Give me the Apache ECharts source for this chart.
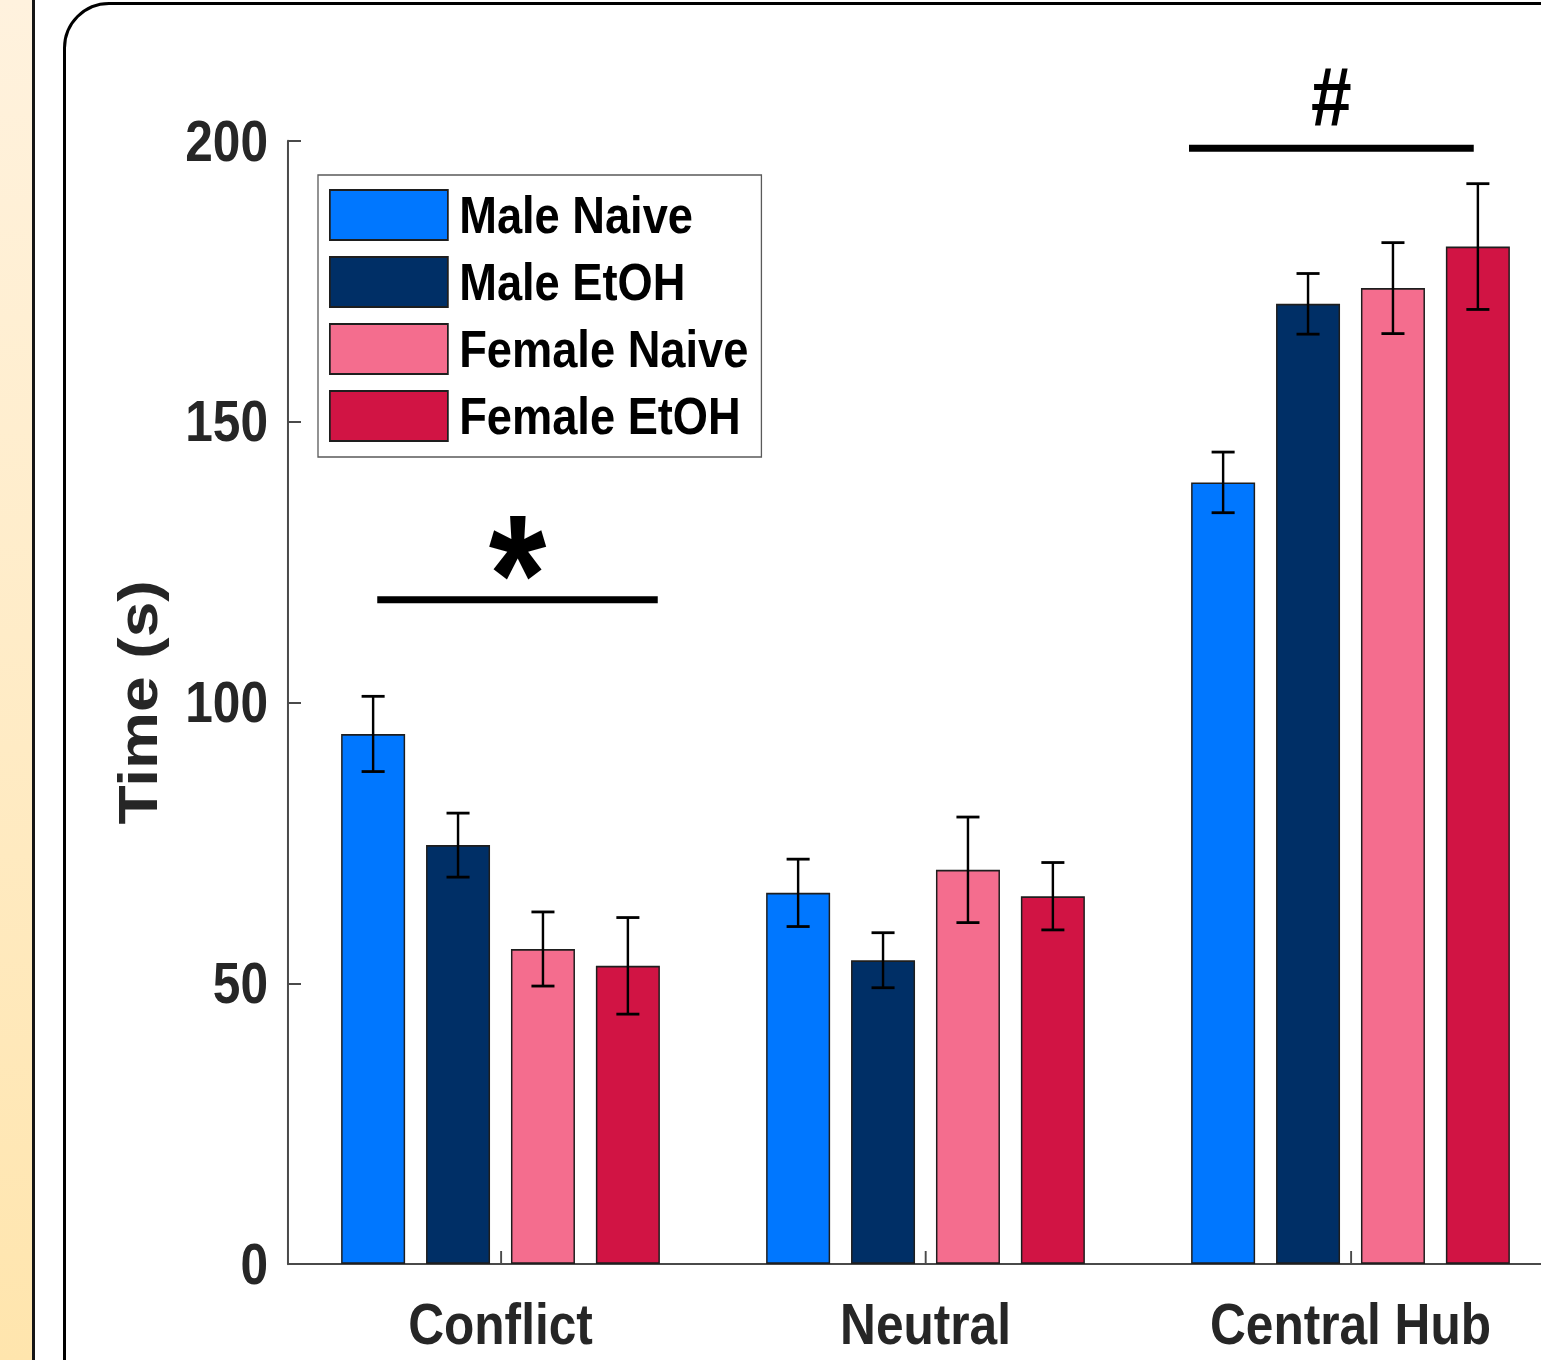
<!DOCTYPE html>
<html>
<head>
<meta charset="utf-8">
<title>Time spent per zone</title>
<script src="https://cdn.jsdelivr.net/npm/echarts@6/dist/echarts.min.js"></script>
<style>
  html, body { margin: 0; padding: 0; }
  body { width: 1541px; height: 1360px; overflow: hidden; position: relative; background: #ffffff; }
  #strip { position: absolute; left: 0; top: 0; width: 32px; height: 1360px;
           background: linear-gradient(180deg, #fff2de 0%, #ffebc4 55%, #ffe5ad 100%); }
  #rule { position: absolute; left: 32px; top: 0; width: 3px; height: 1360px; background: #151515; }
  #panel { position: absolute; left: 63px; top: 2px; width: 1560px; height: 1500px;
           border: 3px solid #000; border-radius: 46px; box-sizing: border-box; background: #fff; }
  /* the figure is drawn in a wider frame and squeezed horizontally */
  #chart { position: absolute; left: 0; top: 0; width: 1900px; height: 1360px;
           transform: scaleX(0.87); transform-origin: 0 0; }
</style>
</head>
<body>
<div id="strip"></div>
<div id="rule"></div>
<div id="panel"></div>
<div id="chart"></div>
<script>
// Zones and groups
const categories = ['Conflict', 'Neutral', 'Central Hub'];
const groups = ['Male Naive', 'Male EtOH', 'Female Naive', 'Female EtOH'];

// Mean time (s) per zone, one array per group
const maleNaive   = [94.4, 66.1, 139.2];
const maleEtOH    = [74.6, 54.1, 171.0];
const femaleNaive = [56.1, 70.2, 173.8];
const femaleEtOH  = [53.1, 65.5, 181.2];

// Standard error of the mean, same order
const maleNaiveSem   = [6.7, 6.0, 5.4];
const maleEtOHSem    = [5.7, 4.9, 5.4];
const femaleNaiveSem = [6.6, 9.4, 8.1];
const femaleEtOHSem  = [8.6, 6.0, 11.2];

// Y axis ticks
const yTicks = [0, 50, 100, 150, 200];

// Significance bars: label, span (in category units) and height (s)
const sigLabels = ['*', '#'];
const sigStart  = [-0.29, 1.62];
const sigEnd    = [0.37, 2.29];
const sigLevel  = [118.3, 198.7];

const means = [maleNaive, maleEtOH, femaleNaive, femaleEtOH];
const sems  = [maleNaiveSem, maleEtOHSem, femaleNaiveSem, femaleEtOHSem];
const colors = ['#0077ff', '#002f66', '#f46d8e', '#d11444'];

const SQUEEZE = 0.87;   // horizontal scale applied to the chart frame
const px = v => v / SQUEEZE;  // screen px -> frame px (horizontal)

const CAT_GAP = 0.25;   // barCategoryGap
const BAR_GAP = 0.327;  // barGap
const SANS = '"Liberation Sans", Arial, Helvetica, sans-serif';
const AXIS_COLOR = '#4a4a4a';
const TEXT_COLOR = '#262626';

// glyph size and vertical offset from the bar line for each marker
const sigStyle = {
  '*': { font: 'bold 170px ' + SANS, dy: 61 },
  '#': { font: 'bold 84px ' + SANS, dy: -9 }
};

const chart = echarts.init(document.getElementById('chart'), null, { renderer: 'svg' });

function errorBarSeries(g) {
  return {
    type: 'custom',
    xAxisIndex: 0,
    yAxisIndex: 0,
    z: 5,
    silent: true,
    data: categories.map((c, i) => [i, means[g][i], sems[g][i]]),
    renderItem: function (params, api) {
      const idx = api.value(0), m = api.value(1), e = api.value(2);
      const band = api.size([1, 0])[0];
      const used = band * (1 - CAT_GAP);
      const w = used / (groups.length + (groups.length - 1) * BAR_GAP);
      const cx = api.coord([idx, 0])[0] - used / 2 + w / 2 + g * w * (1 + BAR_GAP);
      const yTop = api.coord([idx, m + e])[1];
      const yBot = api.coord([idx, m - e])[1];
      const half = w * 0.18;
      const st = { stroke: '#000', lineWidth: 2.8 };
      return {
        type: 'group',
        children: [
          { type: 'line', shape: { x1: cx, y1: yTop, x2: cx, y2: yBot }, style: st },
          { type: 'line', shape: { x1: cx - half, y1: yTop, x2: cx + half, y2: yTop }, style: st },
          { type: 'line', shape: { x1: cx - half, y1: yBot, x2: cx + half, y2: yBot }, style: st }
        ]
      };
    }
  };
}

const barSeries = groups.map((name, g) => ({
  name: name,
  type: 'bar',
  data: means[g],
  barCategoryGap: (CAT_GAP * 100) + '%',
  barGap: (BAR_GAP * 100) + '%',
  itemStyle: { color: colors[g], borderColor: '#1e1e1e', borderWidth: 1.7 },
  emphasis: { disabled: true },
  z: 2
}));

const sigSeries = {
  type: 'custom',
  xAxisIndex: 1,
  yAxisIndex: 0,
  clip: false,
  silent: true,
  z: 6,
  data: sigLabels.map((s, i) => [sigStart[i], sigEnd[i], sigLevel[i], i]),
  renderItem: function (params, api) {
    const x0 = api.value(0), x1 = api.value(1), y = api.value(2);
    const label = sigLabels[api.value(3)];
    const p0 = api.coord([x0, y]);
    const p1 = api.coord([x1, y]);
    const s = sigStyle[label];
    return {
      type: 'group',
      children: [
        { type: 'rect', shape: { x: p0[0], y: p0[1] - 3.5, width: p1[0] - p0[0], height: 7 },
          style: { fill: '#000' } },
        { type: 'text',
          style: { text: label, x: (p0[0] + p1[0]) / 2, y: p0[1] + s.dy,
                   font: s.font, align: 'center', verticalAlign: 'bottom', fill: '#000' } }
      ]
    };
  }
};

chart.setOption({
  animation: false,
  backgroundColor: 'transparent',
  grid: { left: px(288), top: 141, width: px(1275), height: 1123, containLabel: false },
  legend: {
    data: groups,
    orient: 'vertical',
    left: px(318),
    top: 175,
    padding: [14, px(13), 15, px(11)],
    itemWidth: px(118),
    itemHeight: 50,
    itemGap: 15,
    icon: 'rect',
    borderColor: '#5a5a5a',
    borderWidth: 1.5,
    backgroundColor: '#fff',
    selectedMode: false,
    textStyle: {
      fontFamily: SANS, fontWeight: 'bold', fontSize: 52, color: '#000',
      padding: [0, 0, 0, px(7)]
    }
  },
  xAxis: [
    {
      type: 'category',
      data: categories,
      boundaryGap: true,
      axisLine: { show: true, lineStyle: { color: AXIS_COLOR, width: 2 } },
      axisTick: { show: true, inside: true, length: 13, alignWithLabel: true,
                  lineStyle: { color: AXIS_COLOR, width: 2.2 } },
      axisLabel: { interval: 0, margin: 32, fontFamily: SANS, fontWeight: 'bold',
                   fontSize: 57, color: TEXT_COLOR },
      splitLine: { show: false }
    },
    {
      type: 'value',
      min: -0.5,
      max: categories.length - 0.5,
      show: false
    }
  ],
  yAxis: {
    type: 'value',
    min: yTicks[0],
    max: yTicks[yTicks.length - 1],
    interval: yTicks[1] - yTicks[0],
    name: 'Time (s)',
    nameLocation: 'middle',
    nameRotate: 90,
    nameGap: 140,
    nameTextStyle: { fontFamily: SANS, fontWeight: 'bold', fontSize: 64, color: TEXT_COLOR },
    axisLine: { show: true, onZero: false, lineStyle: { color: AXIS_COLOR, width: 2.3 } },
    axisTick: { show: true, inside: true, length: px(13), lineStyle: { color: AXIS_COLOR, width: 2 } },
    axisLabel: { margin: px(20), padding: [9, 0, 0, 0], fontFamily: SANS, fontWeight: 'bold',
                 fontSize: 57, color: TEXT_COLOR },
    splitLine: { show: false }
  },
  series: barSeries.concat(groups.map((n, g) => errorBarSeries(g))).concat([sigSeries])
});
</script>
</body>
</html>
